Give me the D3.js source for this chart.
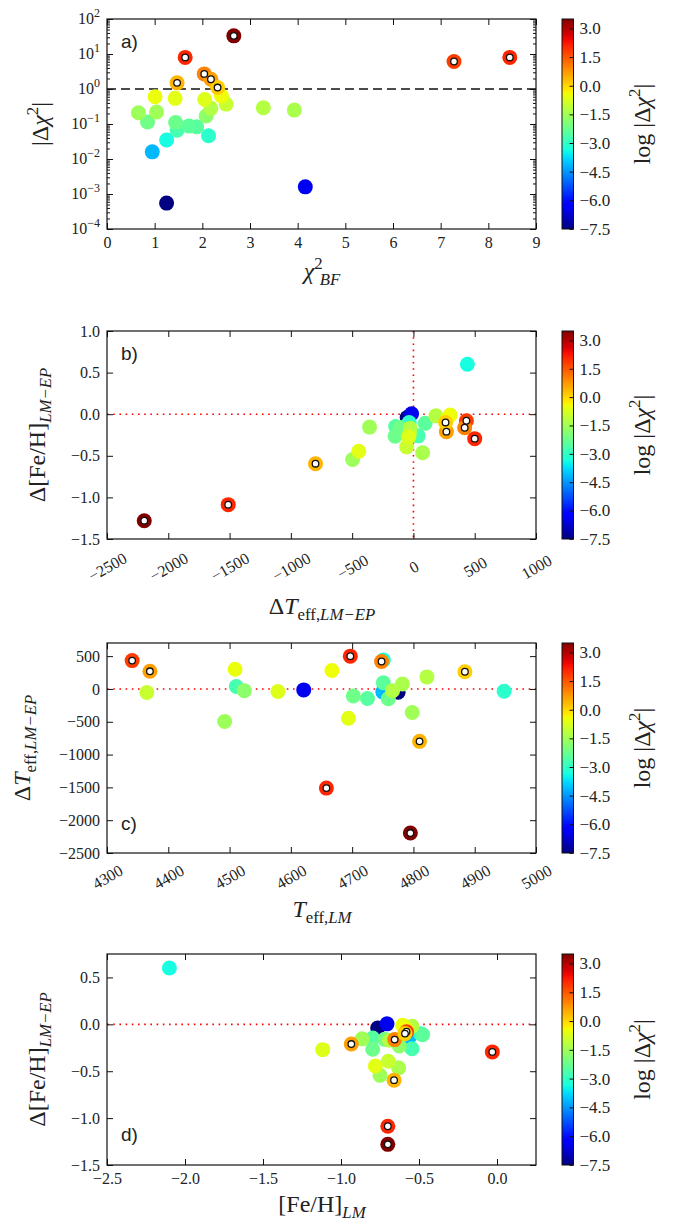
<!DOCTYPE html>
<html>
<head>
<meta charset="utf-8">
<script src="https://cdn.jsdelivr.net/npm/d3@7"></script>
<style>
body { margin:0; background:#fff; }
svg text { font-family:"Liberation Serif","DejaVu Serif",serif; fill:#222; }
.domain { display:none; }
.tick line { stroke:#111; stroke-width:1; }
</style>
</head>
<body>
<div id="viz"></div>
<script>

// one entry per star, same order in every array
var chi2BF = [1.25,4.16,0.95,1.25,2.13,1.47,1.88,1.72,1.44,0.85,2.08,0.66,1.04,3.93,2.18,3.28,2.50,2.05,1.43,1.01,2.40,
              2.66,1.64,8.45,7.28,2.04,2.18,1.47,2.32];
var dChi2  = [0.00055,0.0016,0.016,0.035,0.046,0.066,0.083,0.087,0.11,0.115,0.17,0.21,0.22,0.25,0.28,0.29,0.37,0.50,0.54,0.60,0.63,
              33,8.0,8.0,6.1,2.7,1.9,1.5,1.1];
var dTeff  = [-51,-15,-45,440,-35,38,-145,95,-150,-107,-26,-496,-358,75,-26,183,-55,-38,-446,300,280,
              -2196,-1511,500,432,418,269,-799,262];
var dFeH   = [-0.04,0.005,-0.14,0.60,-0.10,-0.26,-0.147,-0.11,-0.265,-0.16,-0.23,-0.544,-0.155,-0.464,-0.17,-0.02,-0.393,-0.27,-0.445,-0.01,-0.048,
              -1.28,-1.087,-0.294,-0.079,-0.163,-0.21,-0.595,-0.099];
var teffLM = [4775,4621,4750,4751,4948,4511,4725,4751,4759,4702,4524,4492,4798,4782,4766,4822,4365,4579,4694,4509,4667,
              4795,4658,4697,4341,4748,4370,4810,4884];
var fehLM  = [-0.765,-0.705,-0.563,-2.10,-0.49,-0.545,-0.797,-0.477,-0.797,-0.72,-0.626,-0.75,-0.865,-0.631,-0.69,-0.545,-0.697,-1.117,-0.78,-0.605,-0.585,
              -0.70,-0.70,-0.03,-0.58,-0.656,-0.934,-0.66,-0.59];

// tick labels
var chiTicks   = [0,1,2,3,4,5,6,7,8,9];
var decTicks   = [-4,-3,-2,-1,0,1,2];
var fehDTicks  = [-1.5,-1.0,-0.5,0.0,0.5,1.0];
var teffDTicks = [-2500,-2000,-1500,-1000,-500,0,500,1000];
var teffDYTicks= [-2500,-2000,-1500,-1000,-500,0,500];
var teffTicks  = [4300,4400,4500,4600,4700,4800,4900,5000];
var fehDdTicks = [-1.5,-1.0,-0.5,0.0,0.5];
var fehTicks   = [-2.5,-2.0,-1.5,-1.0,-0.5,0.0];
var cbTicks    = [-7.5,-6.0,-4.5,-3.0,-1.5,0.0,1.5,3.0];

var width = 676, height = 1225;
var left = 107, right = 536;

var svg = d3.select("#viz").append("svg")
	.attr("width", width)
	.attr("height", height);

// jet colormap
var jetR = d3.scaleLinear().domain([0,0.35,0.66,0.89,1]).range([0,0,1,1,0.5]).clamp(true);
var jetG = d3.scaleLinear().domain([0,0.125,0.375,0.64,0.91,1]).range([0,0,1,1,0,0]).clamp(true);
var jetB = d3.scaleLinear().domain([0,0.11,0.34,0.65,1]).range([0.5,1,1,0,0]).clamp(true);
function jet(t){ return d3.rgb(jetR(t)*255, jetG(t)*255, jetB(t)*255).toString(); }

var vmin = Math.log(d3.min(dChi2)), vmax = Math.log(d3.max(dChi2));
var norm = d3.scaleLinear().domain([vmin, vmax]).range([0,1]).clamp(true);
var color = d => jet(norm(Math.log(d)));

var stars = d3.range(chi2BF.length).map(i => ({
	chi2: chi2BF[i], dc: dChi2[i], dT: dTeff[i], dF: dFeH[i], T: teffLM[i], F: fehLM[i], big: dChi2[i] > 1
}));

// gradient for colorbars
var grad = svg.append("defs").append("linearGradient")
	.attr("id","jetgrad").attr("x1",0).attr("y1",1).attr("x2",0).attr("y2",0);
d3.range(0,1.0001,0.02).forEach(t => {
	grad.append("stop").attr("offset", t).attr("stop-color", jet(t));
});

function rich(sel, parts, size){
	var shift = 0;
	parts.forEach(p => {
		var target = p.sup ? -0.42*size : p.sub ? 0.26*size : 0;
		var ts = sel.append("tspan").text(p.t)
			.attr("dy", target - shift)
			.style("font-size", ((p.sup || p.sub) ? 0.7*size : size) + "px");
		if (p.it) ts.style("font-style","italic");
		if (p.dx) ts.attr("dx", p.dx);
		shift = target;
	});
}

function panel(o){
	var g = svg.append("g");
	var x = o.x, y = o.y;

	// reference lines
	(o.lines || []).forEach(l => {
		var ln = g.append("line").attr("stroke", l.c).attr("stroke-width", l.w).attr("stroke-dasharray", l.dash);
		if (l.y !== undefined) ln.attr("x1",left).attr("x2",right).attr("y1",y(l.y)).attr("y2",y(l.y));
		else ln.attr("y1",o.top).attr("y2",o.bottom).attr("x1",x(l.x)).attr("x2",x(l.x));
	});

	// points: plain ones first, flagged ones on top
	var ordered = stars.filter(d => !d.big).concat(stars.filter(d => d.big));
	g.selectAll("circle.pt").data(ordered).enter().append("circle")
		.attr("class","pt")
		.attr("cx", d => x(o.fx(d)))
		.attr("cy", d => y(o.fy(d)))
		.attr("r", 7.5)
		.attr("fill", d => color(d.dc));
	g.selectAll("circle.ring").data(stars.filter(d => d.big)).enter().append("circle")
		.attr("class","ring")
		.attr("cx", d => x(o.fx(d)))
		.attr("cy", d => y(o.fy(d)))
		.attr("r", 3.3)
		.attr("fill","#fff").attr("stroke","#111").attr("stroke-width",1.3);

	// axes, ticks inward on every side
	var xb = g.append("g").attr("transform","translate(0,"+o.bottom+")")
		.call(d3.axisBottom(x).tickValues(o.xt).tickSize(-6).tickPadding(8).tickFormat(o.xf));
	g.append("g").attr("transform","translate(0,"+o.top+")")
		.call(d3.axisTop(x).tickValues(o.xt).tickSize(-6).tickFormat(""));
	var yl = g.append("g").attr("transform","translate("+left+",0)")
		.call(d3.axisLeft(y).tickValues(o.yt).tickSize(-6).tickPadding(7).tickFormat(o.yf || ""));
	g.append("g").attr("transform","translate("+right+",0)")
		.call(d3.axisRight(y).tickValues(o.yt).tickSize(-6).tickFormat(""));
	if (o.minor){
		g.append("g").attr("transform","translate("+left+",0)")
			.call(d3.axisLeft(y).tickValues(o.minor).tickSize(-3).tickFormat(""));
		g.append("g").attr("transform","translate("+right+",0)")
			.call(d3.axisRight(y).tickValues(o.minor).tickSize(-3).tickFormat(""));
	}
	xb.selectAll("text").style("font-size","16px").attr("fill","#222");
	yl.selectAll("text").style("font-size","16px").attr("fill","#222");
	if (o.rot){
		xb.selectAll("text").attr("y",0).attr("dy","0.35em")
			.attr("transform","translate(0,"+o.rot+") rotate(-30)");
	}

	g.append("rect").attr("x",left).attr("y",o.top).attr("width",right-left).attr("height",o.bottom-o.top)
		.attr("fill","none").attr("stroke","#111").attr("stroke-width",1.2);

	g.append("text").attr("x",121).attr("y",o.labY).text(o.label)
		.style("font-family","'Liberation Sans',Arial,sans-serif").style("font-size","19px").attr("fill","#111");

	var xl = g.append("text").attr("x",322).attr("y",o.xlY).attr("text-anchor","middle").style("font-size","24px");
	rich(xl, o.xlab, 24);
	var ylb = g.append("text").attr("text-anchor","middle").style("font-size","24px")
		.attr("transform","translate("+o.ylX+","+((o.top+o.bottom)/2)+") rotate(-90)");
	rich(ylb, o.ylab, 24);

	// colorbar
	var cb = d3.scaleLinear().domain([vmin, vmax]).range([o.bottom, o.top]);
	g.append("rect").attr("x",562).attr("y",o.top).attr("width",11.5).attr("height",o.bottom-o.top)
		.attr("fill","url(#jetgrad)").attr("stroke","#111").attr("stroke-width",1);
	var ca = g.append("g").attr("transform","translate(573.5,0)")
		.call(d3.axisRight(cb).tickValues(cbTicks).tickSize(-4).tickPadding(6).tickFormat(d3.format(".1f")));
	ca.selectAll("text").style("font-size","17px").attr("fill","#222");
	var cl = g.append("text").attr("text-anchor","middle").style("font-size","24px")
		.attr("transform","translate(650,"+((o.top+o.bottom)/2)+") rotate(-90)");
	rich(cl, [{t:"log |Δ"},{t:"χ",it:true},{t:"2",sup:true},{t:"|"}], 24);
}

var fmt1 = d3.format(".1f"), fmt0 = d3.format("d");

var labFeHd = [{t:"Δ[Fe/H]"},{t:"LM−EP",sub:true,it:true}];
var labTeffd = [{t:"Δ"},{t:"T",it:true},{t:"eff,",sub:true},{t:"LM−EP",sub:true,it:true}];

// a)
var minorA = [];
d3.range(-4,2).forEach(k => d3.range(2,10).forEach(m => minorA.push(m*Math.pow(10,k))));
panel({
	top:19, bottom:229, label:"a)", labY:48,
	x: d3.scaleLinear().domain([0,9]).range([left,right]),
	y: d3.scaleLog().domain([1e-4,1e2]).range([229,19]),
	fx: d => d.chi2, fy: d => d.dc,
	xt: chiTicks, xf: fmt0,
	yt: decTicks.map(k => Math.pow(10,k)), yf: null, minor: minorA,
	lines: [{y:1, c:"#111", w:1.6, dash:"9,5"}],
	xlab: [{t:"χ",it:true},{t:"2",sup:true},{t:"BF",sub:true,it:true,dx:-3}], xlY:279,
	ylab: [{t:"|Δ"},{t:"χ",it:true},{t:"2",sup:true},{t:"|"}], ylX:48
});
// log labels 10^k for panel a
var ya = d3.scaleLog().domain([1e-4,1e2]).range([229,19]);
decTicks.forEach(k => {
	var t = svg.append("text").attr("x",100).attr("y",ya(Math.pow(10,k))+5).attr("text-anchor","end").style("font-size","16px");
	t.append("tspan").text("10");
	t.append("tspan").text(k < 0 ? "−" + (-k) : k).attr("dy",-7).style("font-size","12px");
});

// b)
panel({
	top:331, bottom:539, label:"b)", labY:360, rot:28,
	x: d3.scaleLinear().domain([-2500,1000]).range([left,right]),
	y: d3.scaleLinear().domain([-1.5,1.0]).range([539,331]),
	fx: d => d.dT, fy: d => d.dF,
	xt: teffDTicks, xf: fmt0, yt: fehDTicks, yf: fmt1,
	lines: [{y:0, c:"#f00", w:1.6, dash:"1.6,4.6"},{x:0, c:"#f00", w:1.6, dash:"1.6,4.6"}],
	xlab: labTeffd, xlY:614,
	ylab: labFeHd, ylX:45
});

// c)
panel({
	top:643, bottom:853, label:"c)", labY:830, rot:24,
	x: d3.scaleLinear().domain([4300,5000]).range([left,right]),
	y: d3.scaleLinear().domain([-2500,700]).range([853,643]),
	fx: d => d.T, fy: d => d.dT,
	xt: teffTicks, xf: fmt0, yt: teffDYTicks, yf: fmt0,
	lines: [{y:0, c:"#f00", w:1.6, dash:"1.6,4.6"}],
	xlab: [{t:"T",it:true},{t:"eff,",sub:true},{t:"LM",sub:true,it:true}], xlY:917,
	ylab: labTeffd, ylX:30
});

// d)
panel({
	top:954, bottom:1165, label:"d)", labY:1141,
	x: d3.scaleLinear().domain([-2.5,0.25]).range([left,right]),
	y: d3.scaleLinear().domain([-1.5,0.75]).range([1165,954]),
	fx: d => d.F, fy: d => d.dF,
	xt: fehTicks, xf: fmt1, yt: fehDdTicks, yf: fmt1,
	lines: [{y:0, c:"#f00", w:1.6, dash:"1.6,4.6"}],
	xlab: [{t:"[Fe/H]"},{t:"LM",sub:true,it:true}], xlY:1212,
	ylab: labFeHd, ylX:45
});

</script>
</body>
</html>
